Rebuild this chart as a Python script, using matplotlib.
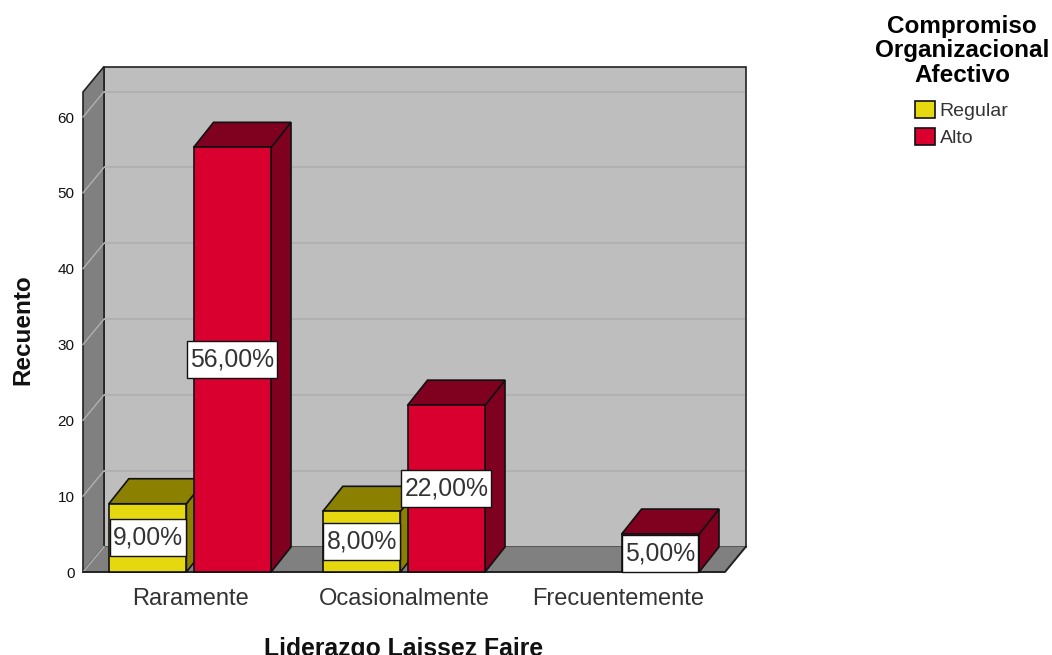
import matplotlib
matplotlib.use("Agg")
import matplotlib.pyplot as plt
from matplotlib.patches import Patch
from matplotlib.path import Path

plt.rcParams["font.family"] = ["Liberation Sans", "DejaVu Sans"]

# ---------------------------------------------------------------------------
# Datos
# ---------------------------------------------------------------------------
categorias = ["Raramente", "Ocasionalmente", "Frecuentemente"]
series = ["Regular", "Alto"]
regular = [9, 8, 0]
alto = [56, 22, 5]
etiq_regular = ["9,00%", "8,00%", None]
etiq_alto = ["56,00%", "22,00%", "5,00%"]
yticks = [0, 10, 20, 30, 40, 50, 60]

AMARILLO = "#e6d80f"
AMARILLO_OSC = "#8b8000"
ROJO = "#d9002f"
ROJO_OSC = "#800020"
PARED = "#bebebe"
PARED_OSC = "#808080"
REJILLA = "#b1b1b1"

W, H = 1052, 655
ANCHO = 0.362
OFFSET = 0.198
YMAX = 63.3
# profundidad "3D" en unidades de datos
DX_PARED, DY_PARED = 0.098, 3.35
DX_BARRA, DY_BARRA = 0.093, 3.3


def caja(x0, y0, w, h, mutation_size):
    # caja de etiqueta: mas alta que el texto, casi sin margen lateral
    pad_x, alto_caja = 3.0, 37.0
    yc = y0 + h / 2
    xa, xb = x0 - pad_x, x0 + w + pad_x
    ya, yb = yc - alto_caja / 2, yc + alto_caja / 2
    return Path([(xa, ya), (xb, ya), (xb, yb), (xa, yb), (xa, ya)], closed=True)


fig = plt.figure(figsize=(W / 100, H / 100), dpi=100)
ax = fig.add_axes([83 / W, 1 - 572 / H, (725 - 83) / W, (572 - 92) / H])
ax.set_xlim(-0.5, 2.5)
ax.set_ylim(0, YMAX)
for s in ax.spines.values():
    s.set_visible(False)
ax.patch.set_visible(False)

x0, x1 = -0.5, 2.5

# pared del fondo, pared izquierda y suelo
ax.fill([x0 + DX_PARED, x1 + DX_PARED, x1 + DX_PARED, x0 + DX_PARED],
        [DY_PARED, DY_PARED, YMAX + DY_PARED, YMAX + DY_PARED],
        facecolor=PARED, edgecolor="#222222", lw=1.2, clip_on=False, zorder=1)
ax.fill([x0, x0 + DX_PARED, x0 + DX_PARED, x0],
        [0, DY_PARED, YMAX + DY_PARED, YMAX],
        facecolor=PARED_OSC, edgecolor="#222222", lw=1.2, clip_on=False, zorder=1)
ax.fill([x0, x1, x1 + DX_PARED, x0 + DX_PARED],
        [0, 0, DY_PARED, DY_PARED],
        facecolor=PARED_OSC, edgecolor="none", clip_on=False, zorder=1)
ax.plot([x0, x1, x1 + DX_PARED], [0, 0, DY_PARED], color="#222222", lw=1.4,
        clip_on=False, zorder=2)

# rejilla
for v in yticks:
    if v > 0:
        ax.plot([x0 + DX_PARED, x1 + DX_PARED - 0.003], [v + DY_PARED] * 2, color=REJILLA,
                lw=1.5, solid_capstyle="butt", clip_on=False, zorder=1.5)
    ax.plot([x0, x0 + DX_PARED], [v, v + DY_PARED], color="#b0b0b0", lw=1.0,
            clip_on=False, zorder=1.5)


def barra(xc, valor, color, oscuro, etiqueta, z):
    if valor <= 0:
        return
    izq, der = xc - ANCHO / 2, xc + ANCHO / 2
    ax.fill([der, der + DX_BARRA, der + DX_BARRA, der],
            [0, DY_BARRA, valor + DY_BARRA, valor],
            facecolor=oscuro, edgecolor="#111111", lw=1.2, clip_on=False, zorder=z)
    ax.fill([izq, der, der + DX_BARRA, izq + DX_BARRA],
            [valor, valor, valor + DY_BARRA, valor + DY_BARRA],
            facecolor=oscuro, edgecolor="#111111", lw=1.2, clip_on=False, zorder=z)
    ax.bar(xc, valor, width=ANCHO, color=color, edgecolor="#111111", lw=1.2,
           clip_on=False, zorder=z + 0.1)
    if etiqueta:
        ax.text(xc, valor / 2, etiqueta, ha="center", va="center", fontsize=17.8,
                color="#333333", zorder=10,
                bbox=dict(boxstyle=caja, facecolor="white",
                          edgecolor="#111111", lw=1.0))


for i in range(len(categorias)):
    barra(i - OFFSET, regular[i], AMARILLO, AMARILLO_OSC, etiq_regular[i], 3)
    barra(i + OFFSET, alto[i], ROJO, ROJO_OSC, etiq_alto[i], 4)

# ejes
ax.set_yticks(yticks)
ax.set_yticklabels([str(v) for v in yticks], fontsize=11, color="#111111")
ax.set_xticks(range(len(categorias)))
ax.set_xticklabels(categorias, fontsize=17, color="#333333")
ax.tick_params(axis="y", length=0, pad=6)
ax.tick_params(axis="x", length=0, pad=11.5)
ax.set_xlabel("Liderazgo Laissez Faire", fontsize=17.8, fontweight="bold", color="#111111")
ax.xaxis.set_label_coords(0.4995, -0.135)
ax.set_ylabel("Recuento", fontsize=17.5, fontweight="bold", color="#111111")
ax.yaxis.set_label_coords(-0.076, 0.505)

# leyenda
handles = [
    Patch(facecolor=AMARILLO, edgecolor="#111111", lw=1.2, label=series[0]),
    Patch(facecolor=ROJO, edgecolor="#111111", lw=1.2, label=series[1]),
]
leg = fig.legend(handles=handles, title="Compromiso\nOrganizacional\nAfectivo",
                 loc="upper center", bbox_to_anchor=(962 / W, 1 - 15 / H),
                 frameon=False, fontsize=14, handlelength=1.0, handleheight=0.95,
                 handletextpad=0.25, labelspacing=0.42, alignment="center",
                 borderpad=0, borderaxespad=0,
                 title_fontproperties={"size": 17.5, "weight": "bold"})
leg.get_title().set_linespacing(1.08)
leg.get_title().set_multialignment("center")
leg._legend_box.sep = 10
for t in leg.get_texts():
    t.set_color("#333333")

fig.savefig("out.png", dpi=100)
plt.close(fig)
